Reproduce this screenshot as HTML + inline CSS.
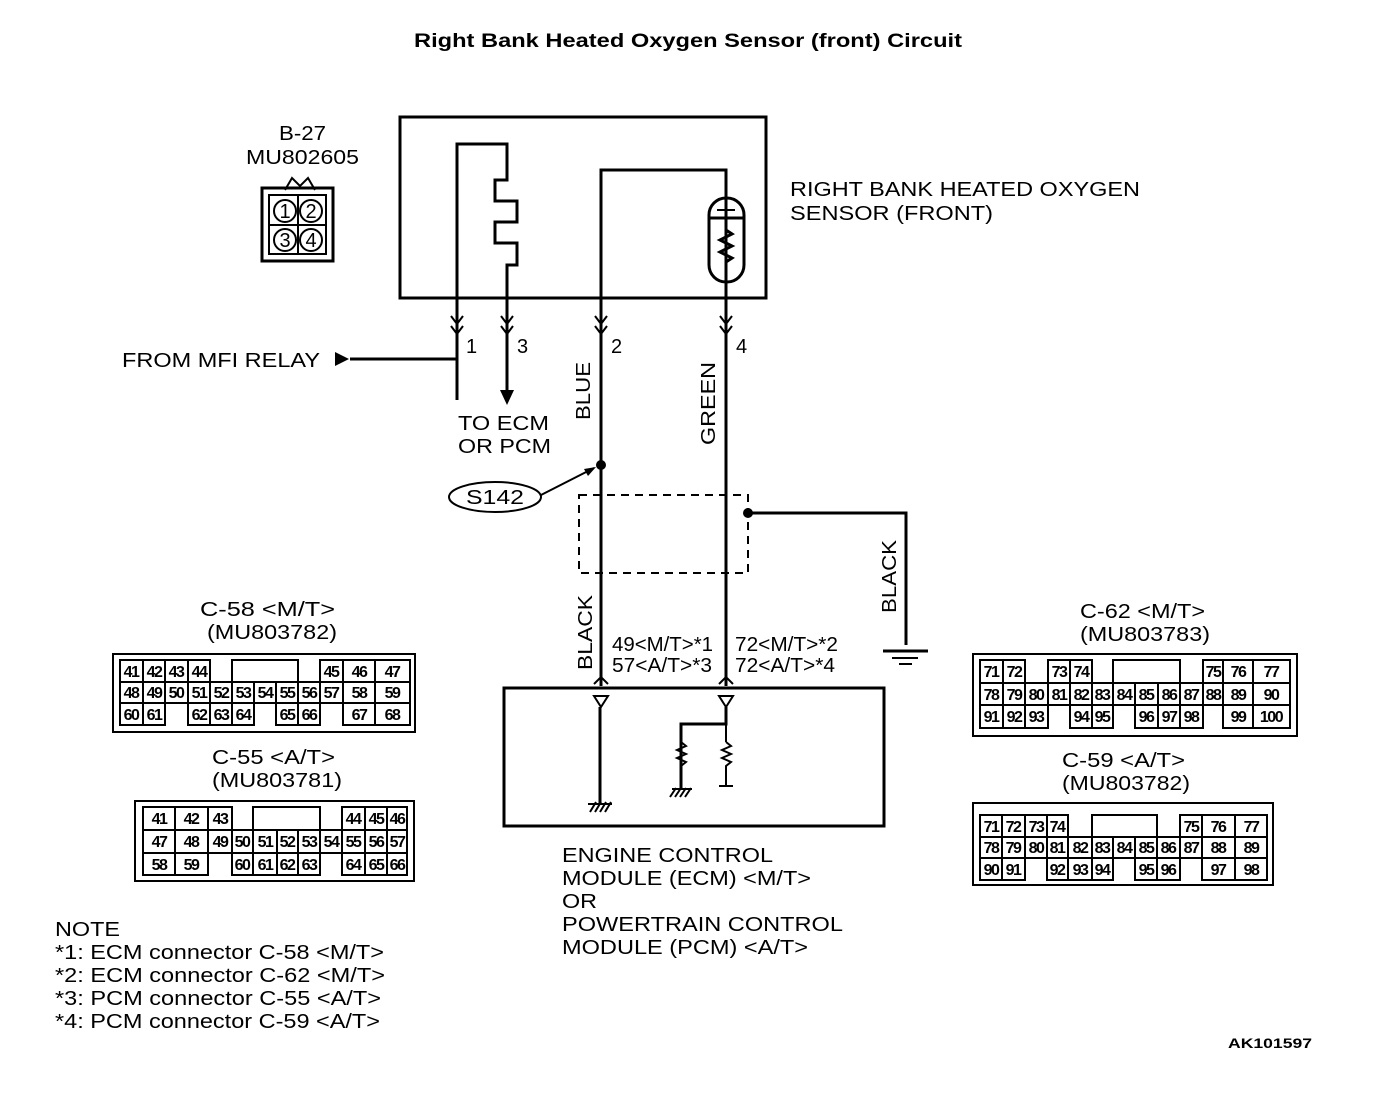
<!DOCTYPE html>
<html><head><meta charset="utf-8"><style>
html,body{margin:0;padding:0;background:#fff;}
svg{display:block;font-family:"Liberation Sans",Arial,sans-serif;}
.w{stroke:#000;stroke-width:3;fill:none;}
.t{stroke:#000;stroke-width:2;fill:none;}
.cn rect{fill:none;stroke:#000;stroke-width:2;}
.cn text{font-size:16px;font-weight:bold;text-anchor:middle;letter-spacing:-1.5px;}
.lb{font-size:20px;}
</style></head><body>
<svg width="1392" height="1110" viewBox="0 0 1392 1110" xmlns="http://www.w3.org/2000/svg">
<text x="414" y="47" font-size="19" font-weight="bold" textLength="548" lengthAdjust="spacingAndGlyphs">Right Bank Heated Oxygen Sensor (front) Circuit</text>

<!-- B-27 -->
<text x="279" y="140" class="lb" textLength="47" lengthAdjust="spacingAndGlyphs">B-27</text>
<text x="246" y="164" class="lb" textLength="113" lengthAdjust="spacingAndGlyphs">MU802605</text>
<path d="M285 190 L292 178 L300 186 L308 178 L315 190" class="t"/>
<rect x="262" y="188" width="71" height="73" class="w"/>
<rect x="269" y="195" width="57" height="59" class="t"/>
<line x1="298" y1="195" x2="298" y2="254" class="t"/><line x1="269" y1="225" x2="326" y2="225" class="t"/>
<circle cx="285" cy="211" r="11" class="t"/><circle cx="311" cy="211" r="11" class="t"/>
<circle cx="285" cy="240" r="11" class="t"/><circle cx="311" cy="240" r="11" class="t"/>
<text x="285" y="218" font-size="20" text-anchor="middle">1</text><text x="311" y="218" font-size="20" text-anchor="middle">2</text>
<text x="285" y="247" font-size="20" text-anchor="middle">3</text><text x="311" y="247" font-size="20" text-anchor="middle">4</text>

<!-- sensor box -->
<rect x="400" y="117" width="366" height="181" class="w"/>
<path d="M457 400 L457 144 L507 144 L507 180 L495 180 L495 201 L517 201 L517 222 L495 222 L495 243 L517 243 L517 265 L507 265 L507 392" class="w"/>
<path d="M500 390 L507 405 L514 390 Z" fill="#000"/>
<path d="M601 686 L601 170 L726 170 L726 686" class="w"/>
<rect x="709" y="198" width="35" height="84" rx="17" class="w" fill="#fff"/>
<line x1="709" y1="218" x2="744" y2="218" class="w"/>
<line x1="717" y1="210" x2="735" y2="210" class="t"/>
<line x1="726" y1="170" x2="726" y2="210" class="w"/>
<path d="M726 218 L726 230 L732 234 L720 240 L732 246 L720 252 L732 258 L726 262 L726 298" class="w"/>
<g class="t" stroke-width="2.5">
<path d="M451 316 L457 324 L463 316 M451 326 L457 334 L463 326"/>
<path d="M501 316 L507 324 L513 316 M501 326 L507 334 L513 326"/>
<path d="M595 316 L601 324 L607 316 M595 326 L601 334 L607 326"/>
<path d="M720 316 L726 324 L732 316 M720 326 L726 334 L732 326"/>
</g>
<text x="466" y="353" class="lb">1</text><text x="517" y="353" class="lb">3</text>
<text x="611" y="353" class="lb">2</text><text x="736" y="353" class="lb">4</text>
<path d="M457 356 L457 359 L350 359" class="w"/>
<path d="M335 352 L349 359 L335 366 Z" fill="#000"/>
<text x="122" y="367" class="lb" textLength="198" lengthAdjust="spacingAndGlyphs">FROM MFI RELAY</text>
<text x="458" y="430" class="lb" textLength="91" lengthAdjust="spacingAndGlyphs">TO ECM</text>
<text x="458" y="453" class="lb" textLength="93" lengthAdjust="spacingAndGlyphs">OR PCM</text>
<text transform="translate(590,420) rotate(-90)" class="lb" textLength="58" lengthAdjust="spacingAndGlyphs">BLUE</text>
<text transform="translate(715,445) rotate(-90)" class="lb" textLength="83" lengthAdjust="spacingAndGlyphs">GREEN</text>

<!-- splice -->
<circle cx="601" cy="465" r="5" fill="#000"/>
<ellipse cx="495" cy="497" rx="46" ry="15" class="t"/>
<text x="466" y="504" font-size="20" textLength="58" lengthAdjust="spacingAndGlyphs">S142</text>
<line x1="541" y1="495" x2="594" y2="468" class="t" stroke-width="1.5"/>
<path d="M596 467 L584 469 L588 476 Z" fill="#000"/>
<rect x="579" y="495" width="169" height="78" fill="none" stroke="#000" stroke-width="2" stroke-dasharray="8,6"/>
<circle cx="748" cy="513" r="5" fill="#000"/>
<path d="M748 513 L906 513 L906 645" class="w"/>
<line x1="883" y1="651" x2="928" y2="651" class="w"/>
<line x1="892" y1="658" x2="918" y2="658" class="t"/>
<line x1="899" y1="664" x2="912" y2="664" class="t"/>
<text transform="translate(896,613) rotate(-90)" class="lb" textLength="73" lengthAdjust="spacingAndGlyphs">BLACK</text>
<text transform="translate(592,670) rotate(-90)" class="lb" textLength="75" lengthAdjust="spacingAndGlyphs">BLACK</text>
<text x="612" y="651" class="lb" textLength="101" lengthAdjust="spacingAndGlyphs">49&lt;M/T&gt;*1</text>
<text x="612" y="672" class="lb" textLength="100" lengthAdjust="spacingAndGlyphs">57&lt;A/T&gt;*3</text>
<text x="735" y="651" class="lb" textLength="103" lengthAdjust="spacingAndGlyphs">72&lt;M/T&gt;*2</text>
<text x="735" y="672" class="lb" textLength="100" lengthAdjust="spacingAndGlyphs">72&lt;A/T&gt;*4</text>

<!-- ECM -->
<path d="M594 684 L601 677 L608 684 M719 684 L726 677 L733 684" class="t"/>
<rect x="504" y="688" width="380" height="138" class="w"/>
<path d="M594 696 L608 696 L601 707 Z" class="t"/>
<path d="M719 696 L733 696 L726 707 Z" class="t"/>
<line x1="600" y1="707" x2="600" y2="804" class="w"/>
<path d="M590 812 L596 802 M595 812 L601 802 M600 812 L606 802 M605 812 L611 802 M588 804 L612 804" class="t"/>
<path d="M726 707 L726 724 L681 724 L681 790" class="w"/>
<path d="M681 742 L686 746 L677 750 L686 754 L677 758 L686 762 L681 766" class="t"/>
<path d="M726 724 L726 742 M726 742 L731 746 L722 750 L731 754 L722 758 L731 762 L726 766 L726 786" class="t" stroke-width="2.5"/>
<line x1="719" y1="786" x2="733" y2="786" class="t" stroke-width="3"/>
<path d="M670 797 L676 788 M675 797 L681 788 M680 797 L686 788 M685 797 L691 788 M672 789 L692 789" class="t"/>
<text x="562" y="862" class="lb" textLength="211" lengthAdjust="spacingAndGlyphs">ENGINE CONTROL</text>
<text x="562" y="885" class="lb" textLength="249" lengthAdjust="spacingAndGlyphs">MODULE (ECM) &lt;M/T&gt;</text>
<text x="562" y="908" class="lb" textLength="35" lengthAdjust="spacingAndGlyphs">OR</text>
<text x="562" y="931" class="lb" textLength="281" lengthAdjust="spacingAndGlyphs">POWERTRAIN CONTROL</text>
<text x="562" y="954" class="lb" textLength="246" lengthAdjust="spacingAndGlyphs">MODULE (PCM) &lt;A/T&gt;</text>
<text x="790" y="196" class="lb" textLength="350" lengthAdjust="spacingAndGlyphs">RIGHT BANK HEATED OXYGEN</text>
<text x="790" y="220" class="lb" textLength="203" lengthAdjust="spacingAndGlyphs">SENSOR (FRONT)</text>

<!-- connector labels -->
<text x="200" y="616" class="lb" textLength="135" lengthAdjust="spacingAndGlyphs">C-58 &lt;M/T&gt;</text>
<text x="207" y="639" class="lb" textLength="130" lengthAdjust="spacingAndGlyphs">(MU803782)</text>
<text x="212" y="764" class="lb" textLength="123" lengthAdjust="spacingAndGlyphs">C-55 &lt;A/T&gt;</text>
<text x="212" y="787" class="lb" textLength="130" lengthAdjust="spacingAndGlyphs">(MU803781)</text>
<text x="1080" y="618" class="lb" textLength="125" lengthAdjust="spacingAndGlyphs">C-62 &lt;M/T&gt;</text>
<text x="1080" y="641" class="lb" textLength="130" lengthAdjust="spacingAndGlyphs">(MU803783)</text>
<text x="1062" y="767" class="lb" textLength="123" lengthAdjust="spacingAndGlyphs">C-59 &lt;A/T&gt;</text>
<text x="1062" y="790" class="lb" textLength="128" lengthAdjust="spacingAndGlyphs">(MU803782)</text>

<!-- C-58 -->
<g class="cn">
<rect x="113" y="654" width="302" height="78" stroke-width="3"/>
<rect x="232" y="660" width="66" height="22"/>
<rect x="120" y="660" width="23" height="22"/><text x="131" y="677">41</text>
<rect x="143" y="660" width="22" height="22"/><text x="154" y="677">42</text>
<rect x="165" y="660" width="23" height="22"/><text x="176" y="677">43</text>
<rect x="188" y="660" width="22" height="22"/><text x="199" y="677">44</text>
<rect x="320" y="660" width="23" height="22"/><text x="331" y="677">45</text>
<rect x="343" y="660" width="32" height="22"/><text x="359" y="677">46</text>
<rect x="375" y="660" width="35" height="22"/><text x="392" y="677">47</text>
<rect x="120" y="682" width="23" height="21"/><text x="131" y="698">48</text>
<rect x="143" y="682" width="22" height="21"/><text x="154" y="698">49</text>
<rect x="165" y="682" width="23" height="21"/><text x="176" y="698">50</text>
<rect x="188" y="682" width="22" height="21"/><text x="199" y="698">51</text>
<rect x="210" y="682" width="22" height="21"/><text x="221" y="698">52</text>
<rect x="232" y="682" width="22" height="21"/><text x="243" y="698">53</text>
<rect x="254" y="682" width="22" height="21"/><text x="265" y="698">54</text>
<rect x="276" y="682" width="22" height="21"/><text x="287" y="698">55</text>
<rect x="298" y="682" width="22" height="21"/><text x="309" y="698">56</text>
<rect x="320" y="682" width="23" height="21"/><text x="331" y="698">57</text>
<rect x="343" y="682" width="32" height="21"/><text x="359" y="698">58</text>
<rect x="375" y="682" width="35" height="21"/><text x="392" y="698">59</text>
<rect x="120" y="703" width="23" height="22"/><text x="131" y="720">60</text>
<rect x="143" y="703" width="22" height="22"/><text x="154" y="720">61</text>
<rect x="188" y="703" width="22" height="22"/><text x="199" y="720">62</text>
<rect x="210" y="703" width="22" height="22"/><text x="221" y="720">63</text>
<rect x="232" y="703" width="22" height="22"/><text x="243" y="720">64</text>
<rect x="276" y="703" width="22" height="22"/><text x="287" y="720">65</text>
<rect x="298" y="703" width="22" height="22"/><text x="309" y="720">66</text>
<rect x="343" y="703" width="32" height="22"/><text x="359" y="720">67</text>
<rect x="375" y="703" width="35" height="22"/><text x="392" y="720">68</text>
</g>

<!-- C-55 -->
<g class="cn">
<rect x="135" y="801" width="279" height="80" stroke-width="3"/>
<rect x="253" y="807" width="67" height="23"/>
<rect x="143" y="807" width="32" height="23"/><text x="159" y="824">41</text>
<rect x="175" y="807" width="33" height="23"/><text x="191" y="824">42</text>
<rect x="208" y="807" width="24" height="23"/><text x="220" y="824">43</text>
<rect x="342" y="807" width="23" height="23"/><text x="353" y="824">44</text>
<rect x="365" y="807" width="22" height="23"/><text x="376" y="824">45</text>
<rect x="387" y="807" width="20" height="23"/><text x="397" y="824">46</text>
<rect x="143" y="830" width="32" height="23"/><text x="159" y="847">47</text>
<rect x="175" y="830" width="33" height="23"/><text x="191" y="847">48</text>
<rect x="208" y="830" width="24" height="23"/><text x="220" y="847">49</text>
<rect x="232" y="830" width="21" height="23"/><text x="242" y="847">50</text>
<rect x="253" y="830" width="24" height="23"/><text x="265" y="847">51</text>
<rect x="277" y="830" width="21" height="23"/><text x="287" y="847">52</text>
<rect x="298" y="830" width="22" height="23"/><text x="309" y="847">53</text>
<rect x="320" y="830" width="22" height="23"/><text x="331" y="847">54</text>
<rect x="342" y="830" width="23" height="23"/><text x="353" y="847">55</text>
<rect x="365" y="830" width="22" height="23"/><text x="376" y="847">56</text>
<rect x="387" y="830" width="20" height="23"/><text x="397" y="847">57</text>
<rect x="143" y="853" width="32" height="22"/><text x="159" y="870">58</text>
<rect x="175" y="853" width="33" height="22"/><text x="191" y="870">59</text>
<rect x="232" y="853" width="21" height="22"/><text x="242" y="870">60</text>
<rect x="253" y="853" width="24" height="22"/><text x="265" y="870">61</text>
<rect x="277" y="853" width="21" height="22"/><text x="287" y="870">62</text>
<rect x="298" y="853" width="22" height="22"/><text x="309" y="870">63</text>
<rect x="342" y="853" width="23" height="22"/><text x="353" y="870">64</text>
<rect x="365" y="853" width="22" height="22"/><text x="376" y="870">65</text>
<rect x="387" y="853" width="20" height="22"/><text x="397" y="870">66</text>
</g>

<!-- C-62 -->
<g class="cn">
<rect x="973" y="654" width="324" height="82" stroke-width="3"/>
<rect x="1113" y="660" width="67" height="23"/>
<rect x="980" y="660" width="23" height="23"/><text x="991" y="677">71</text>
<rect x="1003" y="660" width="22" height="23"/><text x="1014" y="677">72</text>
<rect x="1048" y="660" width="22" height="23"/><text x="1059" y="677">73</text>
<rect x="1070" y="660" width="22" height="23"/><text x="1081" y="677">74</text>
<rect x="1203" y="660" width="20" height="23"/><text x="1213" y="677">75</text>
<rect x="1223" y="660" width="30" height="23"/><text x="1238" y="677">76</text>
<rect x="1253" y="660" width="37" height="23"/><text x="1271" y="677">77</text>
<rect x="980" y="683" width="23" height="22"/><text x="991" y="700">78</text>
<rect x="1003" y="683" width="22" height="22"/><text x="1014" y="700">79</text>
<rect x="1025" y="683" width="23" height="22"/><text x="1036" y="700">80</text>
<rect x="1048" y="683" width="22" height="22"/><text x="1059" y="700">81</text>
<rect x="1070" y="683" width="22" height="22"/><text x="1081" y="700">82</text>
<rect x="1092" y="683" width="21" height="22"/><text x="1102" y="700">83</text>
<rect x="1113" y="683" width="22" height="22"/><text x="1124" y="700">84</text>
<rect x="1135" y="683" width="23" height="22"/><text x="1146" y="700">85</text>
<rect x="1158" y="683" width="22" height="22"/><text x="1169" y="700">86</text>
<rect x="1180" y="683" width="23" height="22"/><text x="1191" y="700">87</text>
<rect x="1203" y="683" width="20" height="22"/><text x="1213" y="700">88</text>
<rect x="1223" y="683" width="30" height="22"/><text x="1238" y="700">89</text>
<rect x="1253" y="683" width="37" height="22"/><text x="1271" y="700">90</text>
<rect x="980" y="705" width="23" height="23"/><text x="991" y="722">91</text>
<rect x="1003" y="705" width="22" height="23"/><text x="1014" y="722">92</text>
<rect x="1025" y="705" width="23" height="23"/><text x="1036" y="722">93</text>
<rect x="1070" y="705" width="22" height="23"/><text x="1081" y="722">94</text>
<rect x="1092" y="705" width="21" height="23"/><text x="1102" y="722">95</text>
<rect x="1135" y="705" width="23" height="23"/><text x="1146" y="722">96</text>
<rect x="1158" y="705" width="22" height="23"/><text x="1169" y="722">97</text>
<rect x="1180" y="705" width="23" height="23"/><text x="1191" y="722">98</text>
<rect x="1223" y="705" width="30" height="23"/><text x="1238" y="722">99</text>
<rect x="1253" y="705" width="37" height="23"/><text x="1271" y="722">100</text>
</g>

<!-- C-59 -->
<g class="cn">
<rect x="973" y="803" width="300" height="82" stroke-width="3"/>
<rect x="1092" y="815" width="65" height="22"/>
<rect x="980" y="815" width="22" height="22"/><text x="991" y="832">71</text>
<rect x="1002" y="815" width="23" height="22"/><text x="1013" y="832">72</text>
<rect x="1025" y="815" width="22" height="22"/><text x="1036" y="832">73</text>
<rect x="1047" y="815" width="21" height="22"/><text x="1057" y="832">74</text>
<rect x="1180" y="815" width="22" height="22"/><text x="1191" y="832">75</text>
<rect x="1202" y="815" width="33" height="22"/><text x="1218" y="832">76</text>
<rect x="1235" y="815" width="32" height="22"/><text x="1251" y="832">77</text>
<rect x="980" y="837" width="22" height="21"/><text x="991" y="853">78</text>
<rect x="1002" y="837" width="23" height="21"/><text x="1013" y="853">79</text>
<rect x="1025" y="837" width="22" height="21"/><text x="1036" y="853">80</text>
<rect x="1047" y="837" width="21" height="21"/><text x="1057" y="853">81</text>
<rect x="1068" y="837" width="24" height="21"/><text x="1080" y="853">82</text>
<rect x="1092" y="837" width="21" height="21"/><text x="1102" y="853">83</text>
<rect x="1113" y="837" width="22" height="21"/><text x="1124" y="853">84</text>
<rect x="1135" y="837" width="22" height="21"/><text x="1146" y="853">85</text>
<rect x="1157" y="837" width="23" height="21"/><text x="1168" y="853">86</text>
<rect x="1180" y="837" width="22" height="21"/><text x="1191" y="853">87</text>
<rect x="1202" y="837" width="33" height="21"/><text x="1218" y="853">88</text>
<rect x="1235" y="837" width="32" height="21"/><text x="1251" y="853">89</text>
<rect x="980" y="858" width="22" height="22"/><text x="991" y="875">90</text>
<rect x="1002" y="858" width="23" height="22"/><text x="1013" y="875">91</text>
<rect x="1047" y="858" width="21" height="22"/><text x="1057" y="875">92</text>
<rect x="1068" y="858" width="24" height="22"/><text x="1080" y="875">93</text>
<rect x="1092" y="858" width="21" height="22"/><text x="1102" y="875">94</text>
<rect x="1135" y="858" width="22" height="22"/><text x="1146" y="875">95</text>
<rect x="1157" y="858" width="23" height="22"/><text x="1168" y="875">96</text>
<rect x="1202" y="858" width="33" height="22"/><text x="1218" y="875">97</text>
<rect x="1235" y="858" width="32" height="22"/><text x="1251" y="875">98</text>
</g>

<!-- note -->
<text x="55" y="936" class="lb" textLength="65" lengthAdjust="spacingAndGlyphs">NOTE</text>
<text x="55" y="959" class="lb" textLength="329" lengthAdjust="spacingAndGlyphs">*1: ECM connector C-58 &lt;M/T&gt;</text>
<text x="55" y="982" class="lb" textLength="330" lengthAdjust="spacingAndGlyphs">*2: ECM connector C-62 &lt;M/T&gt;</text>
<text x="55" y="1005" class="lb" textLength="326" lengthAdjust="spacingAndGlyphs">*3: PCM connector C-55 &lt;A/T&gt;</text>
<text x="55" y="1028" class="lb" textLength="325" lengthAdjust="spacingAndGlyphs">*4: PCM connector C-59 &lt;A/T&gt;</text>
<text x="1228" y="1048" font-size="14" font-weight="bold" textLength="84" lengthAdjust="spacingAndGlyphs">AK101597</text>
</svg>
</body></html>
